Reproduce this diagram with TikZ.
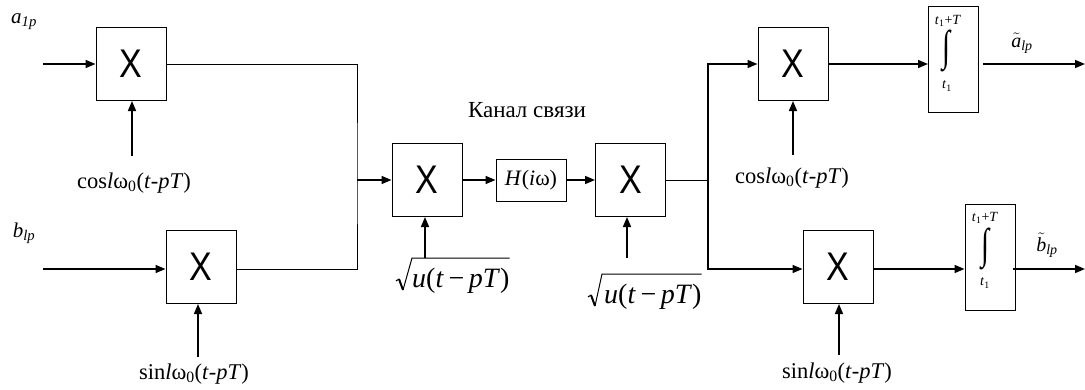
\documentclass[tikz,border=0pt]{standalone}
\usepackage{fontspec}
\usepackage{graphicx}
\setmainfont{Liberation Serif}
\newfontfamily\xfont{Liberation Sans}
\usetikzlibrary{arrows.meta}
\newcommand{\tallint}{\resizebox*{8pt}{42pt}{∫}}
\newcommand{\bigX}{\scalebox{0.85}[1]{X}}
\newcommand{\uarg}{\textit{u}(\textit{t}\,−\,\textit{pT})}
\begin{document}
\begin{tikzpicture}[x=1pt,y=-1pt,
  mul/.style={draw, line width=1pt, minimum width=70pt, minimum height=73pt, inner sep=0pt,
    font=\xfont\fontsize{40}{40}\selectfont},
  hbox/.style={draw, line width=1pt, minimum width=70pt, minimum height=42pt, inner sep=0pt,
    font=\fontsize{22}{22}\selectfont},
  intbox/.style={draw, line width=1pt, minimum width=50pt, minimum height=106pt, inner sep=0pt},
  lbl/.style={font=\fontsize{22.5}{22.5}\selectfont, inner sep=0pt},
  sq/.style={font=\fontsize{28}{28}\selectfont, inner sep=0pt, anchor=base west},
  rad/.style={line width=1pt, line join=miter},
  lim/.style={font=\fontsize{14}{14}\selectfont, inner sep=0pt},
  intg/.style={inner sep=0pt},
  wire/.style={line width=1pt},
  arr/.style={line width=1.6pt, -{Triangle[length=10pt,width=8pt]}}
]
\useasboundingbox (0,0) rectangle (1085,389);

% multipliers
\node[mul] (m1) at (131,64) {\bigX};
\node[mul] (m2) at (201,267) {\bigX};
\node[mul] (m3) at (427,180) {\bigX};
\node[hbox] (h) at (531,180) {\textit{H}(\textit{i}ω)};
\node[mul] (m4) at (630.5,180) {\bigX};
\node[mul] (m5) at (793,64) {\bigX};
\node[mul] (m6) at (838,267) {\bigX};
\node[intbox] (i1) at (953.5,59.5) {};
\node[intbox] (i2) at (990,257.5) {};

% integral contents
\node[lim] (i1u) at (948,21) {\textit{t}\textsubscript{1}+\textit{T}};
\node[intg] (i1s) at (946,51) {\tallint};
\node[lim] (i1l) at (947,86) {\textit{t}\textsubscript{1}};
\node[lim] (i2u) at (985,218) {\textit{t}\textsubscript{1}+\textit{T}};
\node[intg] (i2s) at (985,249) {\tallint};
\node[lim] (i2l) at (985,283) {\textit{t}\textsubscript{1}};

% labels
\node[lbl, font=\fontsize{21}{21}\selectfont] (la) at (24,22) {\textit{a}\textsubscript{\textit{1p}}};
\node[lbl, font=\fontsize{21}{21}\selectfont] (lb) at (24,233) {\textit{b}\textsubscript{\textit{lp}}};
\node[lbl] (lc1) at (134,183) {cos\textit{l}ω\textsubscript{0}(\textit{t}-\textit{pT})};
\node[lbl] (ls1) at (194,374) {sin\textit{l}ω\textsubscript{0}(\textit{t}-\textit{pT})};
\node[lbl, font=\fontsize{23}{23}\selectfont] (lk) at (527,110) {Канал связи};
\node[lbl] (lc2) at (792,178) {cos\textit{l}ω\textsubscript{0}(\textit{t}-\textit{pT})};
\node[lbl] (ls2) at (837,373) {sin\textit{l}ω\textsubscript{0}(\textit{t}-\textit{pT})};
\node[lbl, font=\fontsize{20}{20}\selectfont] (lao) at (1022,43) {$\tilde{\hbox{\textit{a}}}$\textsubscript{\textit{lp}}};
\node[lbl, font=\fontsize{20}{20}\selectfont] (lbo) at (1047,245) {$\tilde{\hbox{\textit{b}}}$\textsubscript{\textit{lp}}};

% square-root labels (radical drawn directly)
\node[sq] (q1) at (412,287) {\uarg};
\node[sq] (q2) at (604,303) {\uarg};
\begin{scope}[shift={(q1.base west)}]
  \coordinate (q1top) at (0,-29);
  \draw[rad] (-16,-6) -- (-13,-8);
  \draw[line width=2pt] (-13,-8) -- (-9,3);
  \draw[rad] (-9,3) -- (q1top) -- (q1top -| q1.east);
\end{scope}
\begin{scope}[shift={(q2.base west)}]
  \coordinate (q2top) at (-2,-29);
  \draw[rad] (-16,-6) -- (-13,-8);
  \draw[line width=2pt] (-13,-8) -- (-9,3);
  \draw[rad] (-9,3) -- (q2top) -- (q2top -| q2.east);
\end{scope}

% free-end coordinates
\coordinate (ina) at (43,64);
\coordinate (inb) at (43,269);
\coordinate (j1) at (357,180);
\coordinate (j2) at (708,180);
\coordinate (oa) at (1085,64);
\coordinate (ob) at (1085,269);
\coordinate (c1) at (132,156);
\coordinate (s1) at (198,357);
\coordinate (u1) at (425,258);
\coordinate (u2) at (627,258);
\coordinate (c2) at (793,155);
\coordinate (s2) at (839,355);

% connectors
\draw[arr] (ina) -- (ina -| m1.west);
\draw[arr] (inb) -- (inb -| m2.west);
\draw[arr] (c1) -- (c1 |- m1.south);
\draw[arr] (s1) -- (s1 |- m2.south);
\draw[wire] (m1.east) -| (j1) |- (inb -| m2.east);
\draw[arr] (j1) -- (m3.west);
\draw[arr] (m3.east) -- (h.west);
\draw[arr] (h.east) -- (m4.west);
\draw[arr] (u1) -- (u1 |- m3.south);
\draw[arr] (u2) -- (u2 |- m4.south);
\draw[wire] (m4.east) -- (j2);
\draw[arr] (j2) |- (m5.west);
\draw[arr] (j2) |- (ob -| m6.west);
\draw[arr] (c2) -- (c2 |- m5.south);
\draw[arr] (s2) -- (s2 |- m6.south);
\draw[arr] (m5.east) -- (m5.east -| i1.west);
\draw[arr] (ob -| m6.east) -- (ob -| i2.west);
\draw[arr, shorten <=4pt] (i1.east |- oa) -- (oa);
\draw[arr, shorten <=-3pt] (i2.east |- ob) -- (ob);
\end{tikzpicture}
\end{document}
